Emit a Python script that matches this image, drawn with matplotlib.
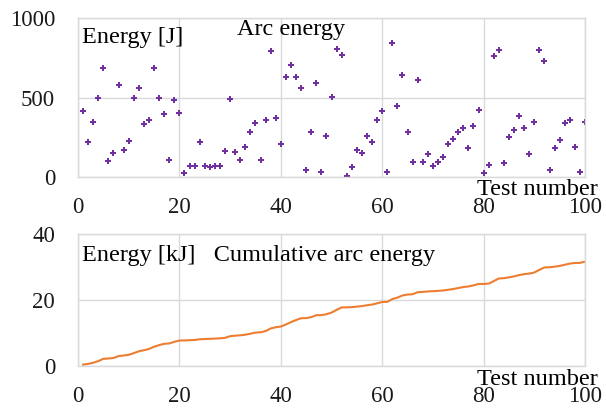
import numpy as np
import matplotlib.pyplot as plt

test_number = np.arange(1, 101)
arc_energy = [
    415, 222, 348, 498, 689, 102, 149, 581, 170, 225,
    496, 562, 331, 360, 687, 496, 397, 108, 483, 403,
    25, 68, 68, 222, 68, 62, 72, 70, 165, 490,
    160, 106, 191, 286, 341, 110, 360, 791, 369, 208,
    632, 704, 627, 559, 41, 286, 591, 30, 259, 505,
    807, 769, 5, 62, 168, 153, 257, 221, 358, 418,
    30, 842, 447, 642, 286, 95, 613, 95, 142, 68,
    93, 127, 206, 240, 284, 308, 184, 324, 424, 24,
    76, 763, 803, 89, 250, 295, 384, 308, 144, 348,
    799, 729, 43, 184, 235, 341, 362, 191, 30, 346,
]
# cumulative arc energy in kJ
cumulative = np.cumsum(arc_energy) / 1000.0

plt.rcParams['font.family'] = ['Liberation Serif', 'DejaVu Serif']

fig = plt.figure(figsize=(6.06, 4.09), dpi=100)
W, H = 606, 409
ax1 = fig.add_axes([78 / W, 1 - 177 / H, (585 - 78) / W, (177 - 18.3) / H])
ax2 = fig.add_axes([78 / W, 1 - 366 / H, (585 - 78) / W, (366 - 234) / H])

grid_col = '#d9d9d9'
txt_size = 17.5
for ax in (ax1, ax2):
    ax.set_xlim(0, 100)
    ax.set_xticks([0, 20, 40, 60, 80, 100])
    ax.grid(True, color=grid_col, linewidth=1)
    ax.set_axisbelow(True)
    for s in ax.spines.values():
        s.set_color(grid_col)
        s.set_linewidth(1)
    ax.tick_params(length=0, labelsize=16.5, colors='#1a1a1a')
    ax.tick_params(axis='y', pad=16.5)
    ax.tick_params(axis='x', pad=14.5)

ax1.plot(test_number, arc_energy, linestyle='none', marker='P',
         markersize=4.5, color='#7030a0', markeredgewidth=0)
ax1.set_ylim(0, 1000)
ax1.set_yticks([0, 500, 1000])
ax1.text(0.008, 0.844, 'Energy [J]', transform=ax1.transAxes,
         fontsize=txt_size, va='baseline', ha='left')
ax1.text(0.313, 0.895, 'Arc energy', transform=ax1.transAxes,
         fontsize=txt_size, va='baseline', ha='left')
ax1.text(1.0256, -0.113, 'Test number', transform=ax1.transAxes,
         fontsize=txt_size, va='baseline', ha='right')

ax2.plot(test_number, cumulative, color='#ed7d31', linewidth=1.5)
ax2.set_ylim(0, 40)
ax2.set_yticks([0, 20, 40])
ax2.text(0.008, 0.798, 'Energy [kJ]   Cumulative arc energy',
         transform=ax2.transAxes, fontsize=txt_size, va='baseline', ha='left')
ax2.text(1.0256, -0.144, 'Test number', transform=ax2.transAxes,
         fontsize=txt_size, va='baseline', ha='right')

fig.savefig('out.png', dpi=100)
